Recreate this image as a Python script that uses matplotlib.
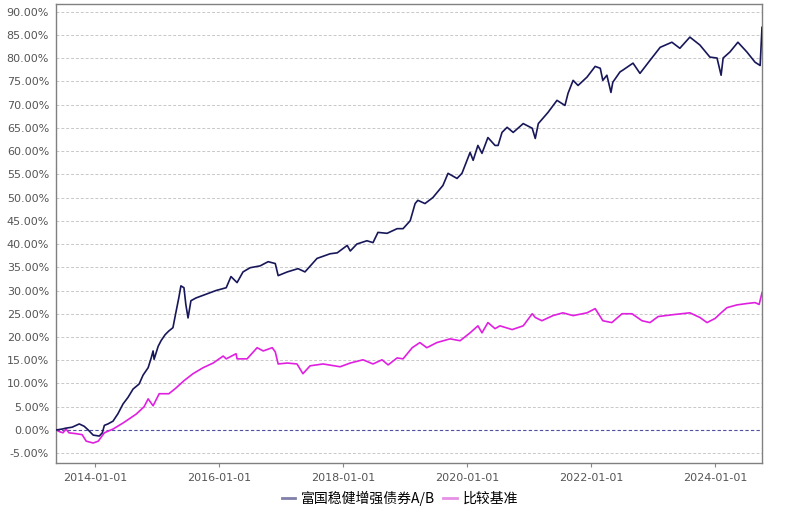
import matplotlib
matplotlib.use("Agg")
import matplotlib.pyplot as plt
import matplotlib.dates as mdates
import matplotlib.ticker as mticker
import pandas as pd

plt.rcParams['font.family'] = ['Noto Sans CJK SC', 'DejaVu Sans']

fund_name = "富国稳健增强债券A/B"
bench_name = "比较基准"

fund_dates = [
    "2013-05-14", "2013-06-19", "2013-07-12", "2013-08-17", "2013-09-28", "2013-10-27",
    "2013-11-20", "2013-12-19", "2014-01-24", "2014-02-11", "2014-02-23", "2014-03-16",
    "2014-04-15", "2014-05-14", "2014-06-13", "2014-07-12", "2014-08-11", "2014-09-16",
    "2014-10-09", "2014-11-08", "2014-11-26", "2014-12-07", "2014-12-13", "2015-01-06",
    "2015-01-23", "2015-02-16", "2015-03-10", "2015-04-03", "2015-04-20", "2015-05-08",
    "2015-05-20", "2015-06-07", "2015-06-18", "2015-07-01", "2015-07-18", "2015-08-17",
    "2015-10-15", "2015-12-13", "2016-02-11", "2016-03-10", "2016-04-15", "2016-05-20",
    "2016-07-01", "2016-08-29", "2016-10-15", "2016-11-26", "2016-12-13", "2017-02-05",
    "2017-04-09", "2017-05-20", "2017-07-30", "2017-10-15", "2017-11-26", "2018-01-24",
    "2018-02-11", "2018-03-22", "2018-05-20", "2018-06-25", "2018-07-24", "2018-09-16",
    "2018-11-14", "2018-12-19", "2019-01-30", "2019-02-28", "2019-03-16", "2019-04-27",
    "2019-06-13", "2019-08-11", "2019-09-10", "2019-11-02", "2019-12-01", "2020-01-18",
    "2020-02-05", "2020-03-04", "2020-03-28", "2020-05-02", "2020-06-13", "2020-07-01",
    "2020-07-24", "2020-08-23", "2020-09-28", "2020-11-26", "2021-01-18", "2021-02-05",
    "2021-02-23", "2021-04-21", "2021-06-13", "2021-07-30", "2021-08-17", "2021-09-16",
    "2021-10-15", "2021-12-07", "2022-01-24", "2022-02-23", "2022-03-10", "2022-04-03",
    "2022-04-27", "2022-05-08", "2022-06-19", "2022-07-06", "2022-09-04", "2022-10-15",
    "2022-12-13", "2023-02-11", "2023-04-21", "2023-06-07", "2023-08-05", "2023-10-03",
    "2023-12-01", "2024-01-12", "2024-02-05", "2024-02-17", "2024-03-28", "2024-05-14",
    "2024-07-06", "2024-08-23", "2024-09-22", "2024-10-03",
]
fund_values = [
    0.0, 0.2, 0.4, 0.6, 1.3, 0.8,
    0.0, -1.1, -1.3, -0.6, 1.0, 1.3,
    1.9, 3.5, 5.6, 7.0, 8.8, 9.9,
    11.8, 13.4, 15.5, 17.0, 15.2, 18.0,
    19.2, 20.5, 21.3, 22.0, 25.2, 28.5,
    31.0, 30.6, 27.0, 24.1, 27.8, 28.4,
    29.2, 30.0, 30.6, 33.0, 31.7, 34.0,
    34.9, 35.3, 36.2, 35.8, 33.2, 34.0,
    34.7, 34.0, 36.9, 37.9, 38.1, 39.7,
    38.5, 40.0, 40.7, 40.3, 42.5, 42.3,
    43.3, 43.3, 45.0, 48.7, 49.4, 48.7,
    50.0, 52.6, 55.2, 54.1, 55.2, 59.7,
    58.0, 61.2, 59.5, 62.9, 61.2, 61.2,
    64.0, 65.1, 64.0, 65.9, 64.9, 62.7,
    65.9, 68.3, 70.9, 69.8, 72.4, 75.2,
    74.1, 75.9, 78.2, 77.8, 75.2, 76.3,
    72.6, 74.8, 77.0, 77.4, 78.9, 76.7,
    79.5, 82.3, 83.4, 82.1, 84.5, 82.8,
    80.2, 80.0, 76.3, 80.0, 81.3, 83.4,
    81.3, 79.1, 78.4, 86.6,
]

bench_dates = [
    "2013-05-14", "2013-06-07", "2013-06-24", "2013-07-12", "2013-07-29", "2013-09-10",
    "2013-10-15", "2013-11-08", "2013-12-19", "2014-01-18", "2014-02-23", "2014-04-15",
    "2014-06-13", "2014-08-29", "2014-10-15", "2014-11-08", "2014-12-07", "2015-01-12",
    "2015-03-10", "2015-04-20", "2015-06-07", "2015-07-30", "2015-09-28", "2015-11-26",
    "2016-01-24", "2016-02-11", "2016-04-09", "2016-04-15", "2016-06-13", "2016-08-11",
    "2016-09-16", "2016-11-08", "2016-11-26", "2016-12-13", "2017-02-05", "2017-04-03",
    "2017-05-08", "2017-06-19", "2017-09-04", "2017-12-13", "2018-02-11", "2018-04-27",
    "2018-06-25", "2018-08-17", "2018-09-22", "2018-11-14", "2018-12-19", "2019-02-11",
    "2019-03-28", "2019-05-08", "2019-07-06", "2019-09-22", "2019-11-20", "2020-01-18",
    "2020-03-04", "2020-03-28", "2020-05-02", "2020-06-13", "2020-07-12", "2020-09-22",
    "2020-11-26", "2021-01-18", "2021-02-05", "2021-03-16", "2021-05-20", "2021-07-18",
    "2021-09-16", "2021-12-07", "2022-01-24", "2022-03-10", "2022-05-02", "2022-07-01",
    "2022-08-29", "2022-10-27", "2022-12-13", "2023-01-30", "2023-04-27", "2023-08-05",
    "2023-10-03", "2023-11-14", "2024-01-01", "2024-01-30", "2024-03-10", "2024-05-08",
    "2024-07-06", "2024-08-23", "2024-09-16", "2024-10-03",
]
bench_values = [
    0.0, -0.4, -0.6, 0.2, -0.6, -0.8,
    -1.0, -2.4, -2.8, -2.4, -0.6, 0.2,
    1.5, 3.4, 5.0, 6.7, 5.2, 7.8,
    7.8, 9.0, 10.6, 12.1, 13.4, 14.4,
    15.9, 15.3, 16.4, 15.3, 15.3, 17.7,
    17.0, 17.7, 16.8, 14.2, 14.4, 14.2,
    12.1, 13.8, 14.2, 13.6, 14.4, 15.1,
    14.2, 15.1, 14.0, 15.5, 15.3, 17.7,
    18.8, 17.7, 18.8, 19.6, 19.2, 20.9,
    22.4, 20.9, 23.1, 21.8, 22.4, 21.6,
    22.4, 25.0, 24.2, 23.5, 24.6, 25.2,
    24.6, 25.2, 26.1, 23.5, 23.1, 25.0,
    25.0, 23.5, 23.1, 24.4, 24.8, 25.2,
    24.2, 23.1, 24.0, 25.0, 26.3, 26.9,
    27.2, 27.4, 27.0, 29.5,
]

y_ticks = list(range(-5, 95, 5))
x_ticks = ["2014-01-01", "2016-01-01", "2018-01-01", "2020-01-01", "2022-01-01", "2024-01-01"]

fd = pd.to_datetime(fund_dates)
bd = pd.to_datetime(bench_dates)

fig = plt.figure(figsize=(8, 5.12), dpi=100)
ax = fig.add_axes([0.07, 0.0957, 0.8825, 0.8963])

ax.plot(fd, fund_values, color="#17175a", lw=1.2, label=fund_name, zorder=3)
ax.plot(bd, bench_values, color="#e020e0", lw=1.2, label=bench_name, zorder=2)
ax.axhline(0, color="#5050a0", lw=0.8, ls=(0, (3, 2)), zorder=1)

ax.set_xlim(min(fd.min(), bd.min()), max(fd.max(), bd.max()))
ax.set_ylim(-7.1, 91.6)
ax.set_yticks(y_ticks)
ax.yaxis.set_major_formatter(mticker.FuncFormatter(lambda v, p: f"{v:.2f}%"))
ax.set_xticks(pd.to_datetime(x_ticks))
ax.xaxis.set_major_formatter(mdates.DateFormatter("%Y-%m-%d"))

for v in y_ticks:
    if v != 0:
        ax.axhline(v, color="#c8c8c8", lw=0.7, ls=(0, (3, 2)), zorder=0)

ax.tick_params(axis="y", length=0, labelsize=8, labelcolor="#555555", pad=5,
               labelfontfamily="DejaVu Sans")
ax.tick_params(axis="x", length=3, color="#888888", labelsize=8, labelcolor="#555555", pad=4,
               labelfontfamily="DejaVu Sans")
for s in ax.spines.values():
    s.set_color("#808080")
    s.set_linewidth(1.0)

h1, = ax.plot([], [], color="#8080a8", lw=2)
h2, = ax.plot([], [], color="#e690e6", lw=2)
fig.legend([h1, h2], [fund_name, bench_name], loc="center", bbox_to_anchor=(0.5, 0.027),
           ncol=2, frameon=False, fontsize=10, handlelength=1.0, handletextpad=0.4,
           columnspacing=0.6)

fig.savefig("out.png", dpi=100)
